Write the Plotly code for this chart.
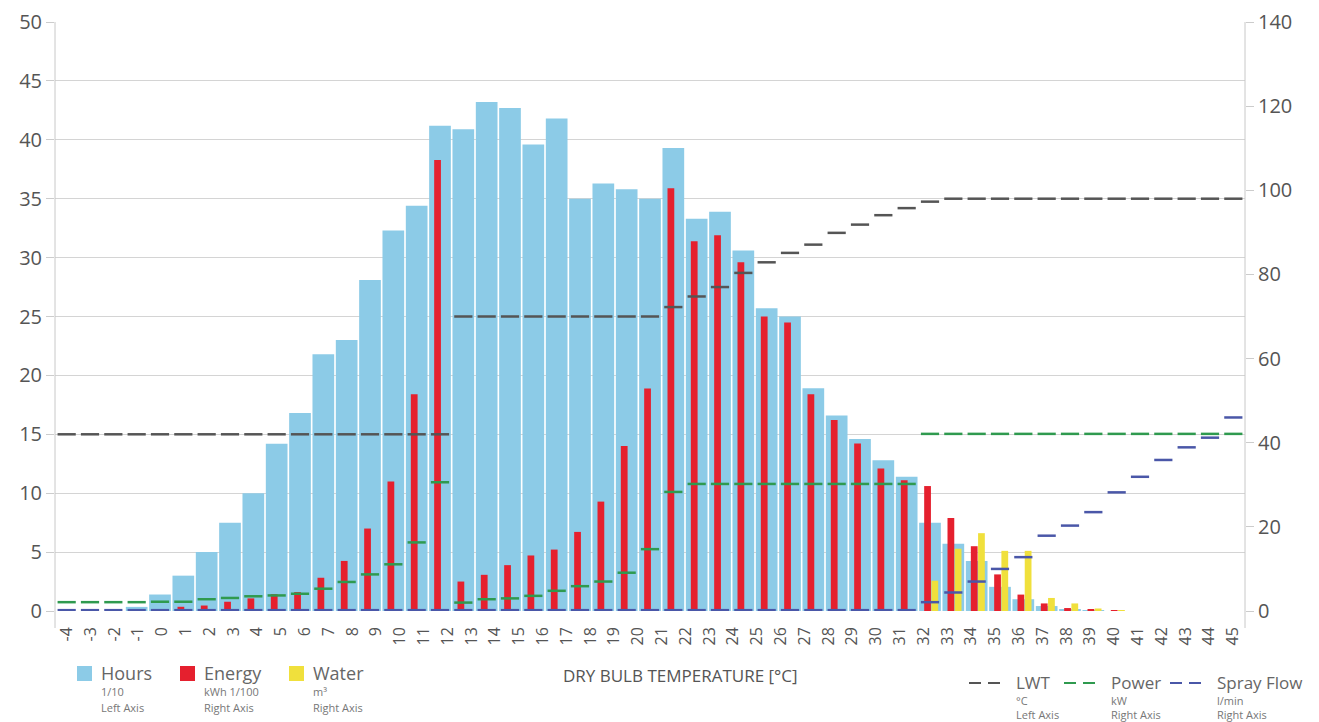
import plotly.graph_objects as go

# ---------------- data ----------------
temps = list(range(-4, 47))          # data slots (51)
tick_labels = list(range(-4, 46))    # axis labels (50)

hours = [0, 0, 0, 0.35, 1.4, 3.0, 5.0, 7.5, 10.0, 14.2, 16.8, 21.8, 23.0, 28.1, 32.3, 34.4,
         41.2, 40.9, 43.2, 42.7, 39.6, 41.8, 35.0, 36.3, 35.8, 35.0, 39.3, 33.3, 33.9, 30.6,
         25.7, 25.0, 18.9, 16.6, 14.6, 12.8, 11.4, 7.5, 5.7, 4.25, 2.05, 1.0, 0.42, 0.15, 0.05,
         0, 0, 0, 0, 0, 0]
energy = [0, 0, 0, 0, 0, 1.0, 1.3, 2.2, 3.0, 4.0, 4.5, 7.9, 11.9, 19.6, 30.8, 51.5,
          107.2, 7.0, 8.6, 10.9, 13.2, 14.6, 18.8, 26.0, 39.2, 52.9, 100.5, 87.9, 89.3, 82.9,
          70.0, 68.6, 51.5, 45.4, 39.8, 33.9, 31.1, 29.7, 22.1, 15.4, 8.7, 3.9, 1.8, 0.7, 0.4,
          0.15, 0, 0, 0, 0, 0]
water = [0] * 37 + [7.2, 14.8, 18.5, 14.3, 14.3, 3.1, 1.8, 0.6, 0.15, 0, 0, 0, 0, 0]
lwt = [15] * 17 + [25] * 9 + [25.8, 26.7, 27.5, 28.7, 29.6, 30.4, 31.1, 32.1, 32.8, 33.6,
                              34.2, 34.75] + [35] * 13
power = [2.1, 2.1, 2.1, 2.1, 2.2, 2.2, 2.8, 3.1, 3.5, 3.7, 4.1, 5.3, 6.9, 8.7, 11.1, 16.3,
         30.6, 2.0, 2.8, 3.0, 3.6, 4.8, 5.9, 7.0, 9.1, 14.7, 28.3] + [30.2] * 10 + [42.1] * 14
spray = [0.2] * 37 + [2.1, 4.4, 7.0, 10.0, 12.8, 17.9, 20.3, 23.5, 28.2, 31.9, 35.9, 38.9,
                      41.2, 46.0]

BLUE = "#8ccbe7"
RED = "#e5202e"
YELLOW = "#f0e03c"
GRAY = "#555555"
GREEN = "#2f9a4f"
NAVY = "#4a57a8"
FONT = "Open Sans"

fig = go.Figure()
# dummy trace to anchor the label axis
fig.add_trace(go.Scatter(x=[tick_labels[0]], y=[0], mode="markers", marker=dict(opacity=0),
                         showlegend=False, hoverinfo="skip"))
fig.add_trace(go.Bar(x=temps, y=hours, xaxis="x2", yaxis="y", marker=dict(color=BLUE, line=dict(width=0)),
                     width=0.93, offset=-0.465, name="Hours"))
fig.add_trace(go.Bar(x=temps, y=energy, xaxis="x2", yaxis="y2", marker=dict(color=RED, line=dict(width=0)),
                     width=0.29, offset=-0.25, name="Energy"))
fig.add_trace(go.Bar(x=temps, y=water, xaxis="x2", yaxis="y2", marker=dict(color=YELLOW, line=dict(width=0)),
                     width=0.29, offset=0.06, name="Water"))
fig.add_trace(go.Scatter(x=temps, y=power, xaxis="x2", yaxis="y2", mode="markers", name="Power",
                         marker=dict(symbol="line-ew", size=13, line=dict(width=2.5, color=GREEN))))
fig.add_trace(go.Scatter(x=temps, y=spray, xaxis="x2", yaxis="y2", mode="markers", name="Spray Flow",
                         marker=dict(symbol="line-ew", size=13, line=dict(width=2.5, color=NAVY))))
fig.add_trace(go.Scatter(x=temps, y=lwt, xaxis="x2", yaxis="y3", mode="markers", name="LWT",
                         marker=dict(symbol="line-ew", size=13, line=dict(width=2.5, color=GRAY))))

# page body has an 8px margin: the figure is drawn 8px smaller and offset
OFF = 8
W, H = 1319 - OFF, 722 - OFF
L, R, T, B = 55, 1245, 22, 611   # plot area in screenshot pixels


def px(x):
    return (x - L) / (R - L)


def py(y):
    return (B - y) / (B - T)


shapes = []
for xx in (L, R):
    shapes.append(dict(type="line", xref="paper", yref="paper", x0=px(xx), x1=px(xx),
                       y0=py(628), y1=py(T), line=dict(color="#c8c8c8", width=1)))

annotations = []


def text(x, y, s, size, color="#666666", anchor="left"):
    annotations.append(dict(x=px(x), y=py(y), xref="paper", yref="paper", text=s, showarrow=False,
                            xanchor=anchor, yanchor="middle", font=dict(family=FONT, size=size, color=color)))


# left legend
for x0, col, name, l1, l2 in [(77, BLUE, "Hours", "1/10", "Left Axis"),
                              (180, RED, "Energy", "kWh 1/100", "Right Axis"),
                              (289, YELLOW, "Water", "m³", "Right Axis")]:
    shapes.append(dict(type="rect", xref="paper", yref="paper", x0=px(x0), x1=px(x0 + 15),
                       y0=py(681), y1=py(666), fillcolor=col, line=dict(width=0)))
    text(x0 + 22, 673, name, 18)
    text(x0 + 22, 691, l1, 11, "#777777")
    text(x0 + 22, 707, l2, 11, "#777777")

# right legend
for x0, col, name, l1, l2 in [(969, GRAY, "LWT", "°C", "Left Axis"),
                              (1064, GREEN, "Power", "kW", "Right Axis"),
                              (1170, NAVY, "Spray Flow", "l/min", "Right Axis")]:
    for dx in (0, 19):
        shapes.append(dict(type="line", xref="paper", yref="paper", x0=px(x0 + dx), x1=px(x0 + dx + 12),
                           y0=py(683), y1=py(683), line=dict(color=col, width=2)))
    text(x0 + 45, 682, name, 17)
    text(x0 + 45, 701, l1, 11, "#777777")
    text(x0 + 45, 714, l2, 11, "#777777")

text(680, 675, "DRY BULB TEMPERATURE [°C]", 17, "#555555", anchor="center")

fig.update_layout(
    width=W, height=H, autosize=False,
    margin=dict(l=L - OFF, r=1319 - R, t=T - OFF, b=722 - B, pad=0),
    paper_bgcolor="white", plot_bgcolor="white",
    barmode="overlay", showlegend=False,
    font=dict(family=FONT, color="#555555"),
    xaxis=dict(range=[-4.5, 45.5], tickmode="array", tickvals=tick_labels,
               ticktext=[str(t) for t in tick_labels], tickangle=-90,
               tickfont=dict(size=16, color="#555555"), showgrid=False, zeroline=False,
               showline=False, ticks="", ticklabelstandoff=12, automargin=False),
    xaxis2=dict(range=[-4.5, 46.5], overlaying="x", visible=False, anchor="y"),
    yaxis=dict(range=[0, 50], tickvals=list(range(0, 51, 5)), showgrid=True, gridcolor="#d4d4d4",
               gridwidth=1, zeroline=False, showline=False, ticks="outside", ticklen=8,
               tickcolor="#cccccc", tickfont=dict(size=20, color="#555555"), automargin=False),
    yaxis2=dict(range=[0, 140], tickvals=list(range(0, 141, 20)), overlaying="y", side="right",
                showgrid=False, zeroline=False, showline=False, ticks="outside", ticklen=8,
                tickcolor="#cccccc", tickfont=dict(size=20, color="#555555"), automargin=False),
    yaxis3=dict(range=[0, 50], overlaying="y", visible=False),
    shapes=shapes, annotations=annotations,
)

fig.write_html("out.html")
